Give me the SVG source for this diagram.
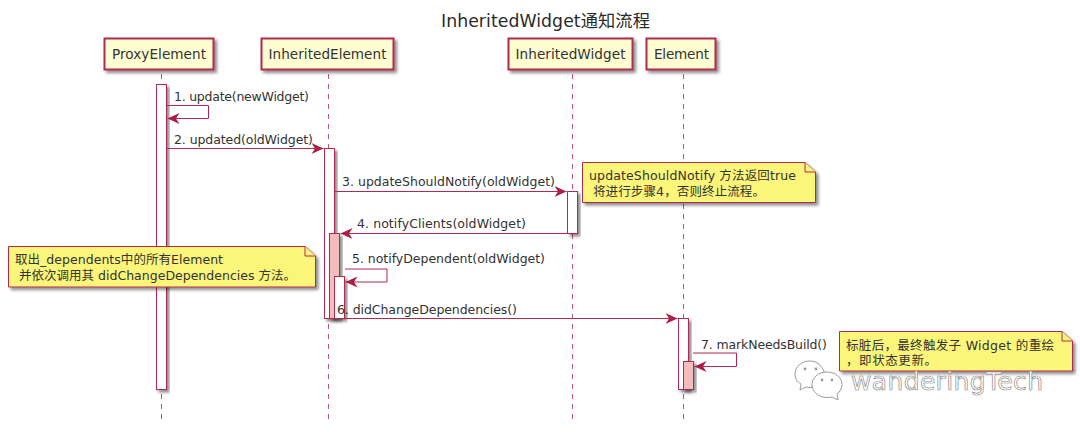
<svg xmlns="http://www.w3.org/2000/svg" width="1080" height="432" viewBox="0 0 1080 432">
  <style>
    text { font-family: "DejaVu Sans", "Noto Sans CJK SC", sans-serif; font-size: 12.5px; fill: #333; }
    .title { font-size: 17.3px; fill: #2a2a2a; }
    .name { font-size: 13.6px; }
    .part { fill: #fefed2; stroke: #b02a50; stroke-width: 2; filter: url(#shadow); }
    .life { stroke: #b02a50; stroke-width: 1; stroke-dasharray: 5 5; fill: none; opacity: .8; }
    .act { fill: #fff; stroke: #b02a50; stroke-width: 1; filter: url(#shadow); }
    .actp { fill: #f6bcbc; stroke: #b02a50; stroke-width: 1; filter: url(#shadow); }
    .note { fill: #fbf679; stroke: #b02a50; stroke-width: 1; filter: url(#shadow); }
    .fold { fill: #fbf679; stroke: #b02a50; stroke-width: 1; }
    .msg { stroke: #b02a50; stroke-width: 1; fill: none; }
    .mark { font-size: 25px; fill: #fff; stroke: #8c8c8c; stroke-width: .7; }
    .wc { fill: #fff; stroke: #9a9a9a; stroke-width: 1; }
    .eye { fill: #9a9a9a; }
  </style>
  <defs>
    <filter id="shadow" x="-30%" y="-30%" width="160%" height="160%">
      <feDropShadow dx="2.5" dy="2.5" stdDeviation="1.6" flood-color="#000" flood-opacity=".45"/>
    </filter>
    <marker id="head" markerUnits="userSpaceOnUse" markerWidth="13" markerHeight="14" refX="12" refY="7" orient="auto">
      <path d="M0 1.500 L12 7 L0 12.500 L3.500 7 Z" fill="#a82048"/>
    </marker>
  </defs>

  <text class="title" x="441" y="27" textLength="209">InheritedWidget通知流程</text>

  <g id="lifelines">
    <line class="life" x1="161.500" y1="74" x2="161.500" y2="422"/>
    <line class="life" x1="328.500" y1="74" x2="328.500" y2="422"/>
    <line class="life" x1="572.500" y1="74" x2="572.500" y2="422"/>
    <line class="life" x1="683.500" y1="74" x2="683.500" y2="422"/>
  </g>

  <g id="ProxyElement">
    <rect class="part" x="104.500" y="38.500" width="109" height="31"/>
    <text class="name" x="112" y="59" textLength="94">ProxyElement</text>
    <rect class="act" x="156.500" y="84.500" width="10" height="305"/>
  </g>
  <g id="InheritedElement">
    <rect class="part" x="261.500" y="38.500" width="132" height="31"/>
    <text class="name" x="268.500" y="59" textLength="118">InheritedElement</text>
    <rect class="act" x="324.500" y="148.500" width="10" height="170"/>
    <rect class="actp" x="329.500" y="233.500" width="10" height="85"/>
    <rect class="act" x="334.500" y="276.500" width="10" height="42"/>
  </g>
  <g id="InheritedWidget">
    <rect class="part" x="508.500" y="38.500" width="124" height="31"/>
    <text class="name" x="515.500" y="59" textLength="110">InheritedWidget</text>
    <rect class="act" x="567.500" y="191.500" width="10" height="42"/>
  </g>
  <g id="Element">
    <rect class="part" x="646.500" y="38.500" width="69" height="31"/>
    <text class="name" x="654" y="59" textLength="55">Element</text>
    <rect class="act" x="678.500" y="318.500" width="10" height="71"/>
    <rect class="actp" x="683.500" y="361.500" width="10" height="28"/>
  </g>

  <g id="connectors">
    <path class="msg" marker-end="url(#head)" d="M167 105.500H208.500V118.500H167.500"/>
    <path class="msg" marker-end="url(#head)" d="M167 148.500H323.500"/>
    <path class="msg" marker-end="url(#head)" d="M335 191.500H566.500"/>
    <path class="msg" marker-end="url(#head)" d="M567 233.500H340.500"/>
    <path class="msg" marker-end="url(#head)" d="M345 269H387V282H345.500"/>
    <path class="msg" marker-end="url(#head)" d="M325 318.500H677.500"/>
    <path class="msg" marker-end="url(#head)" d="M693 353H736.500V366.500H694.500"/>
    <text x="174" y="101" textLength="135">1. update(newWidget)</text>
    <text x="174" y="144" textLength="139">2. updated(oldWidget)</text>
    <text x="342" y="186" textLength="213">3. updateShouldNotify(oldWidget)</text>
    <text x="357" y="228" textLength="169">4. notifyClients(oldWidget)</text>
    <text x="352" y="263" textLength="193">5. notifyDependent(oldWidget)</text>
    <text x="337" y="314" textLength="180">6. didChangeDependencies()</text>
    <text x="701" y="349" textLength="126">7. markNeedsBuild()</text>
  </g>

  <g id="note-should-notify">
    <path class="note" d="M582.500 162.500H805L815.500 172V202.500H582.500Z"/>
    <path class="fold" d="M805 162.500V172H815.500"/>
    <text x="589" y="180" textLength="207">updateShouldNotify 方法返回true</text>
    <text x="593" y="196" textLength="172">将进行步骤4，否则终止流程。</text>
  </g>
  <g id="note-dependents">
    <path class="note" d="M8.500 246.500H305L315.500 256V287H8.500Z"/>
    <path class="fold" d="M305 246.500V256H315.500"/>
    <text x="15" y="264" textLength="208">取出_dependents中的所有Element</text>
    <text x="19" y="280" textLength="277">并依次调用其 didChangeDependencies 方法。</text>
  </g>
  <g id="note-mark-dirty">
    <path class="note" d="M839.500 331.500H1062L1072.500 341V371H839.500Z"/>
    <path class="fold" d="M1062 331.500V341H1072.500"/>
    <text x="846" y="350" textLength="208">标脏后，最终触发子 Widget 的重绘</text>
    <text x="846" y="365" textLength="91">，即状态更新。</text>
  </g>

  <g id="brand">
    <path class="wc" d="M810 361c-9 0-15 6-15 13 0 4 2 8 6 10l-1 6 6-3c2 .5 3 .5 5 .5l8-4 6-8c-1-8-7-14.500-15-14.500z"/>
    <circle class="eye" cx="805" cy="369" r="1.400"/>
    <circle class="eye" cx="816" cy="369" r="1.400"/>
    <path class="wc" d="M827 372c-9 0-15 6-15 12.500s6 13 15 13c2 0 3 0 5-.5l6 3-1-6c3-2 5-6 5-9.500 0-6.500-6-12.500-15-12.500z"/>
    <circle class="eye" cx="822" cy="380" r="1.400"/>
    <circle class="eye" cx="832" cy="380" r="1.400"/>
    <text class="mark" x="851" y="390" textLength="192">wanderingTech</text>
  </g>
</svg>
